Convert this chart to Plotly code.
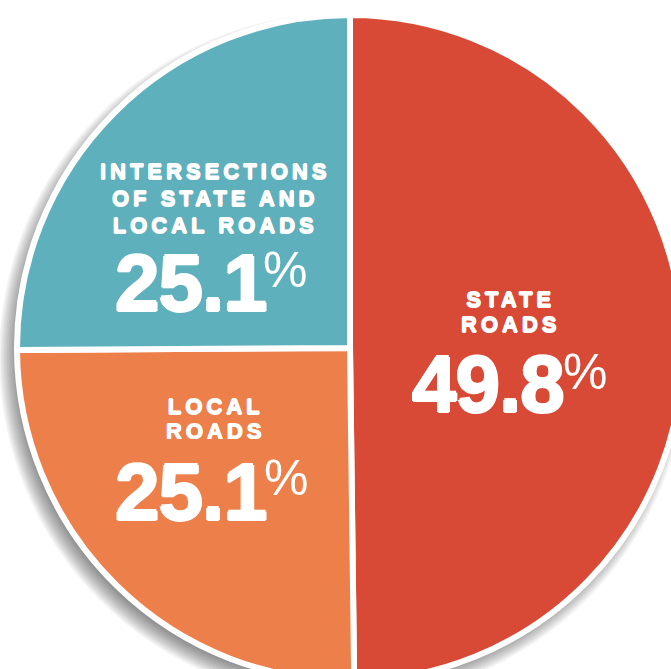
import plotly.graph_objects as go

# Crash share by road type (percent)
categories = ["STATE<br>ROADS", "LOCAL<br>ROADS", "INTERSECTIONS<br>OF STATE AND<br>LOCAL ROADS"]
shares = [49.8, 25.1, 25.1]
colors = ["#D94A36", "#EC7F4A", "#5FB0BD"]

# Canvas: the pie is slightly larger than the visible window and gets cropped
W, H = 683, 681
ML, MT = 17, 15
SIDE = 666  # square plot area -> pie radius 333


def px(x):
    return (x - ML) / SIDE


def py(y):
    return 1 - (y - MT) / SIDE


fig = go.Figure()
fig.add_trace(go.Pie(
    labels=categories,
    values=shares,
    sort=False,
    direction="clockwise",
    rotation=0,
    marker=dict(colors=colors, line=dict(color="white", width=6)),
    textinfo="none",
    hoverinfo="skip",
    showlegend=False,
))

# soft drop shadow underneath the pie (stacked translucent discs)
cx, cy, R = 350, 348, 333
sx, sy = cx - 7, cy + 9
for k in range(12):
    r = R + 11 - k * 1.6
    fig.add_shape(
        type="circle", xref="paper", yref="paper", layer="below",
        x0=px(sx - r), x1=px(sx + r), y0=py(sy + r), y1=py(sy - r),
        fillcolor="rgba(0,0,0,0.042)", line=dict(width=0),
    )

FAMILY = "Liberation Sans, Arial, sans-serif"


def thick(w):
    return f"{w}px 0 0 white, -{w}px 0 0 white, 0 {w}px 0 white, 0 -{w}px 0 white"


NUM_FONT = dict(family=FAMILY, size=80, color="white", weight="bold", shadow=thick(1.2))
PCT_FONT = dict(family=FAMILY, size=50, color="white")


def spaced(label):
    return "<br>".join(
        f'<span style="letter-spacing:4px;font-size:22px">{line}</span>'
        for line in label.split("<br>")
    )


# text placement (pixel centres) per slice: label, number, percent sign, label line pitch
layout_pos = [
    ((508, 312), (488, 384), (585, 372), 25),
    ((213, 419), (191, 492), (286, 478), 24.6),
    ((213, 198), (191, 283), (285, 270), 27),
]

for cat, val, (lab, num, pct, pitch) in zip(categories, shares, layout_pos):
    n_lines = cat.count("<br>") + 1
    fig.add_annotation(x=px(lab[0] + 2), y=py(lab[1]), xref="paper", yref="paper",
                       text=spaced(cat), showarrow=False,
                       font=dict(family=FAMILY, size=pitch / 1.3, color="white",
                                 weight="bold", shadow=thick(0.6)),
                       xanchor="center", yanchor="middle", align="center")
    fig.add_annotation(x=px(num[0]), y=py(num[1]), xref="paper", yref="paper",
                       text=f'<span style="letter-spacing:-1px">{val:.1f}</span>', showarrow=False,
                       font=NUM_FONT, xanchor="center", yanchor="middle",
                       height=64, valign="middle")
    fig.add_annotation(x=px(pct[0]), y=py(pct[1]), xref="paper", yref="paper",
                       text="%", showarrow=False, font=PCT_FONT,
                       xanchor="center", yanchor="middle", height=42, valign="middle")

fig.update_layout(
    width=W, height=H, autosize=False,
    margin=dict(l=ML, t=MT, r=W - ML - SIDE, b=H - MT - SIDE, pad=0),
    paper_bgcolor="white", plot_bgcolor="white",
)

fig.write_html(
    "out.html",
    config={"displayModeBar": False, "staticPlot": True},
    post_script="document.body.style.margin='0';document.body.style.overflow='hidden';"
                "document.documentElement.style.overflow='hidden';",
)
